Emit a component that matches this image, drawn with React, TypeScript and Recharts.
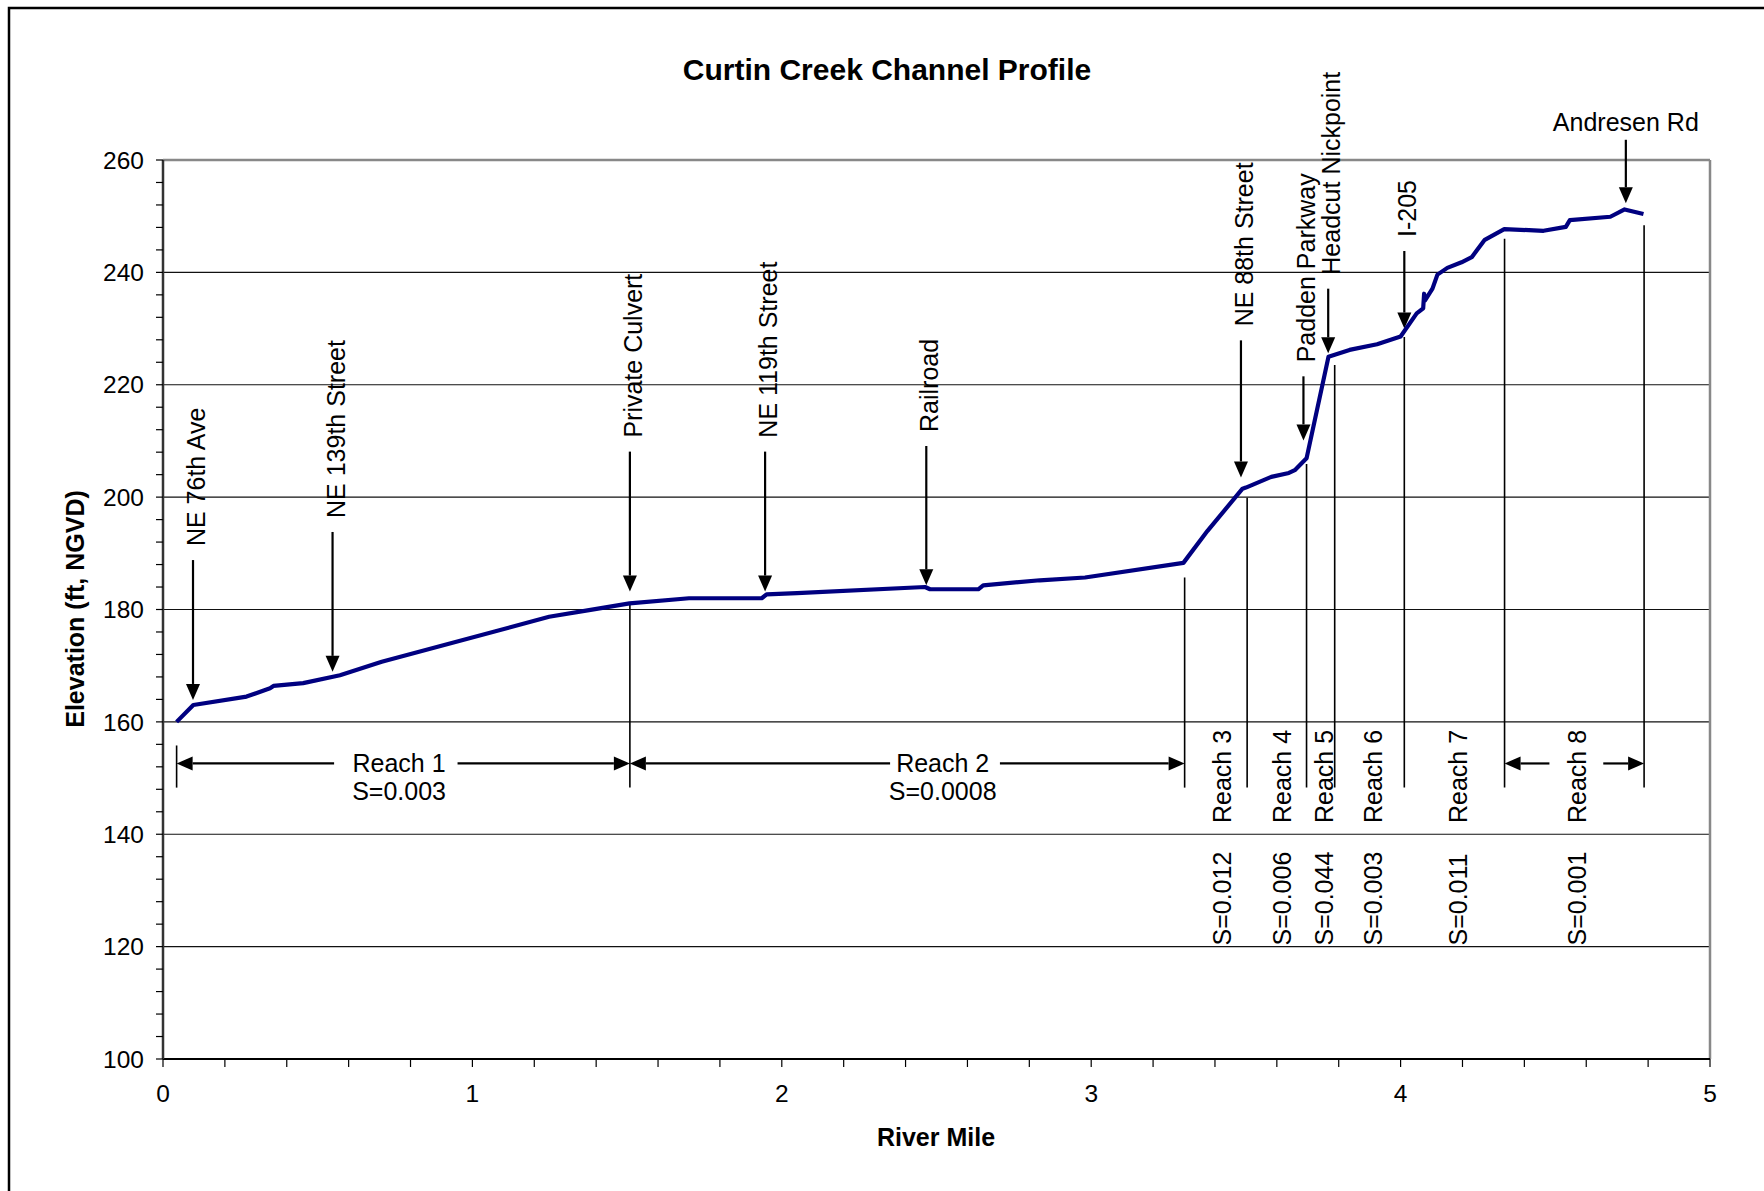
import React from 'react';
import { LineChart, Line, XAxis, YAxis, ReferenceLine, ReferenceDot } from 'recharts';

// channel profile
const riverMile = [0.044, 0.098, 0.27, 0.346, 0.357, 0.453, 0.572, 0.707, 1.248, 1.377, 1.508, 1.7, 1.935, 1.951, 2.049, 2.463, 2.479, 2.635, 2.651, 2.834, 2.98, 3.298, 3.376, 3.489, 3.5, 3.582, 3.639, 3.658, 3.696, 3.767, 3.835, 3.924, 4.0, 4.052, 4.073, 4.076, 4.079, 4.103, 4.119, 4.151, 4.197, 4.23, 4.246, 4.272, 4.335, 4.462, 4.534, 4.547, 4.678, 4.724, 4.785];
const elevation = [160.0, 163.0, 164.5, 166.0, 166.4, 166.9, 168.3, 170.7, 178.7, 179.9, 181.1, 182.0, 182.0, 182.7, 182.9, 184.0, 183.6, 183.6, 184.3, 185.2, 185.7, 188.3, 194.0, 201.5, 201.7, 203.6, 204.3, 204.8, 206.9, 225.0, 226.2, 227.2, 228.6, 232.7, 233.6, 236.2, 235.0, 237.1, 239.6, 240.8, 241.8, 242.7, 243.9, 245.8, 247.7, 247.4, 248.1, 249.3, 249.9, 251.2, 250.4];

const xTicks = [0, 0.2, 0.4, 0.6, 0.8, 1, 1.2, 1.4, 1.6, 1.8, 2, 2.2, 2.4, 2.6, 2.8, 3, 3.2, 3.4, 3.6, 3.8, 4, 4.2, 4.4, 4.6, 4.8, 5];
const yTicks = [100, 104, 108, 112, 116, 120, 124, 128, 132, 136, 140, 144, 148, 152, 156, 160, 164, 168, 172, 176, 180, 184, 188, 192, 196, 200, 204, 208, 212, 216, 220, 224, 228, 232, 236, 240, 244, 248, 252, 256, 260];
const gridValues = [120, 140, 160, 180, 200, 220, 240];

// landmarks: arrow pointing down onto the profile
const landmarkNames = ['NE 76th Ave', 'NE 139th Street', 'Private Culvert', 'NE 119th Street', 'Railroad', 'NE 88th Street', 'Padden Parkway', 'Headcut Nickpoint', 'I-205'];
const landmarkMile = [0.097, 0.548, 1.509, 1.946, 2.467, 3.484, 3.686, 3.766, 4.012];
const landmarkTop = [188.8, 193.8, 208.1, 208.1, 209.1, 227.9, 221.5, 237.1, 243.8];
const landmarkTip = [163.9, 168.9, 183.2, 183.2, 184.3, 203.5, 210.1, 225.6, 230.0];

const andresenName = 'Andresen Rd';
const andresenMile = 4.728;
const andresenTop = 263.6;
const andresenTip = 252.3;

// reach boundary lines
const boundaryMile = [0.044, 1.509, 3.302, 3.504, 3.696, 3.787, 4.012, 4.336, 4.787];
const boundaryTop = [155.8, 181.2, 185.7, 199.9, 205.9, 223.5, 228.5, 246.0, 248.4];
const boundaryBottom = 148.3;

// horizontal reach labels
const wideReachNames = ['Reach 1', 'Reach 2'];
const wideReachSlopes = ['S=0.003', 'S=0.0008'];
const wideReachMile = [0.763, 2.52];
const reachArrowY = 152.6;
const reachArrowTail = [0.553, 0.952, 2.35, 2.705, 4.481, 4.655];
const reachArrowHead = [0.044, 1.509, 1.509, 3.302, 4.336, 4.787];

// rotated reach labels
const narrowReachNames = ['Reach 3', 'Reach 4', 'Reach 5', 'Reach 6', 'Reach 7', 'Reach 8'];
const narrowReachSlopes = ['S=0.012', 'S=0.006', 'S=0.044', 'S=0.003', 'S=0.011', 'S=0.001'];
const narrowReachMile = [3.424, 3.617, 3.752, 3.911, 4.186, 4.571];
const narrowNameBase = 142.0;
const narrowSlopeBase = 120.2;

const data = riverMile.map((m, i) => ({ mile: m, elev: elevation[i] }));

const FONT = "'Liberation Sans', Arial, Helvetica, sans-serif";

const Arrow = (props: any) => {
  const { x1, y1, x2, y2 } = props;
  const dx = x2 - x1;
  const dy = y2 - y1;
  const len = Math.sqrt(dx * dx + dy * dy) || 1;
  const ux = dx / len;
  const uy = dy / len;
  const hl = 16;
  const hw = 7;
  const bx = x2 - ux * hl;
  const by = y2 - uy * hl;
  const pts = `${x2},${y2} ${bx - uy * hw},${by + ux * hw} ${bx + uy * hw},${by - ux * hw}`;
  return (
    <g>
      <line x1={x1} y1={y1} x2={bx} y2={by} stroke="#000" strokeWidth={2.2} />
      <polygon points={pts} fill="#000" />
    </g>
  );
};

const PlainLine = (props: any) => (
  <line x1={props.x1} y1={props.y1} x2={props.x2} y2={props.y2} stroke="#000" strokeWidth={1.6} />
);

const vText = (text: string, gap: number, dx: number) => (props: any) => {
  const x = props.cx + dx;
  const y = props.cy - gap;
  return (
    <text x={x} y={y} transform={`rotate(-90 ${x} ${y})`} textAnchor="start" dominantBaseline="central"
      fontFamily={FONT} fontSize={25} fill="#000">{text}</text>
  );
};

const hText = (text: string, dy: number) => (props: any) => (
  <text x={props.cx} y={props.cy + dy} textAnchor="middle" dominantBaseline="central"
    fontFamily={FONT} fontSize={25} fill="#000">{text}</text>
);

export default function App() {
  return (
    <div style={{ position: 'fixed', left: 0, top: 0, width: 1764, height: 1191, overflow: 'hidden', background: '#fff' }}>
      <LineChart width={1764} height={1191} data={data} margin={{ top: 160, right: 54, bottom: 72, left: 63 }}>
        <XAxis dataKey="mile" type="number" domain={[0, 5]} ticks={xTicks} interval={0}
          tickFormatter={(v: number) => (Number.isInteger(v) ? String(v) : '')}
          height={60} tickSize={8} tickMargin={18}
          axisLine={{ stroke: '#000', strokeWidth: 2 }} tickLine={{ stroke: '#000', strokeWidth: 1.2 }}
          tick={{ fill: '#000', fontSize: 24.5, fontFamily: FONT }} allowDataOverflow />
        <YAxis type="number" domain={[100, 260]} ticks={yTicks} interval={0}
          tickFormatter={(v: number) => (v % 20 === 0 ? String(v) : '')}
          width={100} tickSize={7} tickMargin={12}
          axisLine={{ stroke: '#333', strokeWidth: 2.5 }} tickLine={{ stroke: '#000', strokeWidth: 1.2 }}
          tick={{ fill: '#000', fontSize: 24.5, fontFamily: FONT }} allowDataOverflow />

        {gridValues.map((v) => (
          <ReferenceLine key={`g${v}`} y={v} stroke="#111" strokeWidth={1.2} />
        ))}
        <ReferenceLine y={260} stroke="#888" strokeWidth={2.5} />
        <ReferenceLine x={5} stroke="#888" strokeWidth={2.5} />

        {boundaryMile.map((m, i) => (
          <ReferenceLine key={`b${i}`} ifOverflow="visible"
            segment={[{ x: m, y: boundaryTop[i] }, { x: m, y: boundaryBottom }]} shape={PlainLine} />
        ))}

        {reachArrowHead.map((h, i) => (
          <ReferenceLine key={`ra${i}`} ifOverflow="visible"
            segment={[{ x: reachArrowTail[i], y: reachArrowY }, { x: h, y: reachArrowY }]} shape={Arrow} />
        ))}

        {landmarkNames.map((n, i) => (
          <ReferenceLine key={`la${i}`} ifOverflow="visible"
            segment={[{ x: landmarkMile[i], y: landmarkTop[i] }, { x: landmarkMile[i], y: landmarkTip[i] }]} shape={Arrow} />
        ))}
        {landmarkNames.map((n, i) => (
          <ReferenceDot key={`lt${i}`} x={landmarkMile[i]} y={landmarkTop[i]} ifOverflow="visible" shape={vText(n, 14, 3)} />
        ))}

        <ReferenceLine ifOverflow="visible"
          segment={[{ x: andresenMile, y: andresenTop }, { x: andresenMile, y: andresenTip }]} shape={Arrow} />
        <ReferenceDot x={andresenMile} y={andresenTop} ifOverflow="visible" shape={hText(andresenName, -18)} />

        {wideReachNames.map((n, i) => (
          <ReferenceDot key={`wn${i}`} x={wideReachMile[i]} y={reachArrowY} ifOverflow="visible" shape={hText(n, 0)} />
        ))}
        {wideReachSlopes.map((s, i) => (
          <ReferenceDot key={`ws${i}`} x={wideReachMile[i]} y={reachArrowY} ifOverflow="visible" shape={hText(s, 28)} />
        ))}

        {narrowReachNames.map((n, i) => (
          <ReferenceDot key={`nn${i}`} x={narrowReachMile[i]} y={narrowNameBase} ifOverflow="visible" shape={vText(n, 0, 0)} />
        ))}
        {narrowReachSlopes.map((s, i) => (
          <ReferenceDot key={`ns${i}`} x={narrowReachMile[i]} y={narrowSlopeBase} ifOverflow="visible" shape={vText(s, 0, 0)} />
        ))}

        <Line type="linear" dataKey="elev" stroke="#000080" strokeWidth={4.2} dot={false}
          strokeLinejoin="round" isAnimationActive={false} />
      </LineChart>

      <svg width={1764} height={1191} style={{ position: 'absolute', left: 0, top: 0, pointerEvents: 'none' }}>
        <rect x={9} y={8} width={1900} height={1400} fill="none" stroke="#000" strokeWidth={2.5} />
        <text x={887} y={80} textAnchor="middle" fontFamily={FONT} fontWeight="bold" fontSize={30} fill="#000">
          Curtin Creek Channel Profile
        </text>
        <text x={84} y={609} transform="rotate(-90 84 609)" textAnchor="middle" fontFamily={FONT} fontWeight="bold" fontSize={25} fill="#000">
          Elevation (ft, NGVD)
        </text>
        <text x={936} y={1146} textAnchor="middle" fontFamily={FONT} fontWeight="bold" fontSize={25} fill="#000">
          River Mile
        </text>
      </svg>
    </div>
  );
}
